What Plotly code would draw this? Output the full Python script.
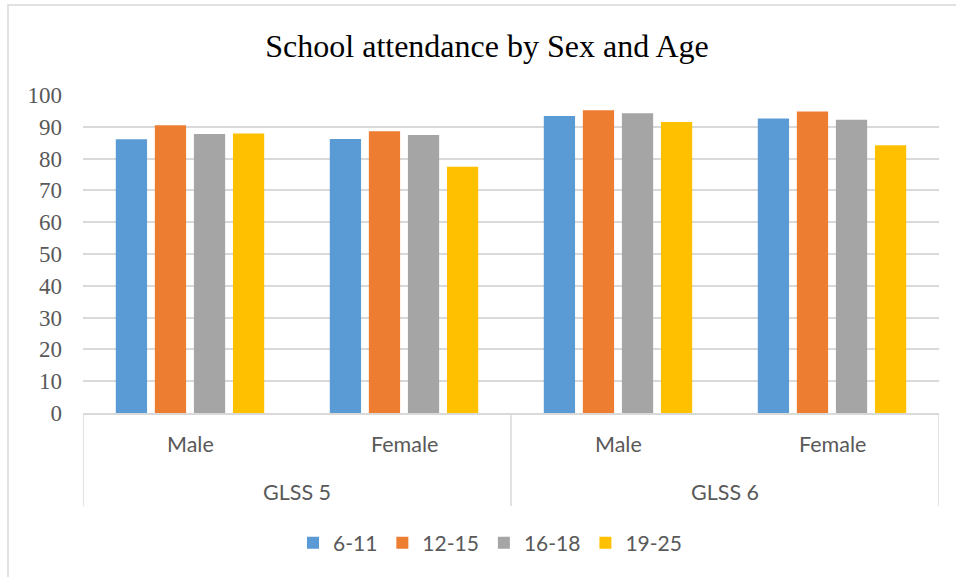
import plotly.graph_objects as go

# ---- data ----
surveys = ["GLSS 5", "GLSS 5", "GLSS 6", "GLSS 6"]
sexes = ["Male", "Female", "Male", "Female"]
age_groups = ["6-11", "12-15", "16-18", "19-25"]
att_6_11 = [86.1, 86.2, 93.4, 92.6]
att_12_15 = [90.5, 88.6, 95.2, 94.8]
att_16_18 = [87.7, 87.4, 94.3, 92.2]
att_19_25 = [87.9, 77.4, 91.5, 84.2]
y_ticks = [0, 10, 20, 30, 40, 50, 60, 70, 80, 90, 100]

series = [att_6_11, att_12_15, att_16_18, att_19_25]
colors = ["#5B9BD5", "#ED7D31", "#A5A5A5", "#FFC000"]

W, H = 956, 577
L, R, T, B = 83, 939, 95, 413  # plot area in pixels


def px_x(p):
    return (p - L) / (R - L)


def px_y(p):
    return (B - p) / (B - T)


xs = list(range(len(sexes)))

fig = go.Figure()
for name, vals, col in zip(age_groups, series, colors):
    fig.add_trace(go.Bar(x=xs, y=vals, name=name, marker=dict(color=col, line=dict(width=0))))

annotations = []
# inner category labels
for i, s in enumerate(sexes):
    annotations.append(dict(x=i, xref="x", y=px_y(444), yref="paper", text=s, showarrow=False,
                            yanchor="middle", xanchor="center",
                            font=dict(family="Lato", size=21.5, color="#595959")))
# outer category labels
outer = []
for i, s in enumerate(surveys):
    if s not in [o[0] for o in outer]:
        idx = [j for j, t in enumerate(surveys) if t == s]
        outer.append((s, sum(idx) / len(idx)))
for s, xc in outer:
    annotations.append(dict(x=xc, xref="x", y=px_y(492), yref="paper", text=s, showarrow=False,
                            yanchor="middle", xanchor="center",
                            font=dict(family="Lato", size=21.5, color="#595959")))

shapes = []
# dividers for hierarchical axis
for xv in [-0.5, 1.5, 3.5]:
    shapes.append(dict(type="line", xref="x", yref="paper", x0=xv, x1=xv, y0=0, y1=px_y(506),
                       line=dict(color="#D9D9D9", width=1.5)))
# chart border
shapes.append(dict(type="rect", xref="paper", yref="paper", x0=px_x(8), x1=px_x(W + 20),
                   y0=px_y(H + 20), y1=px_y(5), line=dict(color="#D9D9D9", width=1.5),
                   fillcolor="rgba(0,0,0,0)", layer="below"))

fig.update_layout(
    width=W, height=H,
    margin=dict(l=L, r=W - R, t=T, b=H - B, pad=0),
    paper_bgcolor="white", plot_bgcolor="white",
    barmode="group", bargap=0.27, bargroupgap=0.2,
    title=dict(text="School attendance by Sex and Age", xref="container", x=487 / W,
               yref="container", y=1 - 46 / H, xanchor="center", yanchor="middle",
               font=dict(family="Liberation Serif", size=32, color="#000000")),
    xaxis=dict(range=[-0.5, 3.5], showticklabels=False, showgrid=False, zeroline=False,
               showline=True, linecolor="#D9D9D9", linewidth=1.5, ticks=""),
    yaxis=dict(range=[0, 100], tickvals=y_ticks, showgrid=True, gridcolor="#D9D9D9", gridwidth=1.5,
               zeroline=False, showline=False, ticks="", ticklabelstandoff=20,
               tickfont=dict(family="Liberation Serif", size=23, color="#595959")),
    legend=dict(orientation="h", x=px_x(490), xanchor="center", y=px_y(543), yanchor="middle",
                font=dict(family="Lato", size=21, color="#595959"), traceorder="normal",
                itemwidth=30),
    showlegend=True,
    annotations=annotations,
    shapes=shapes,
)

fig.write_html("out.html")
